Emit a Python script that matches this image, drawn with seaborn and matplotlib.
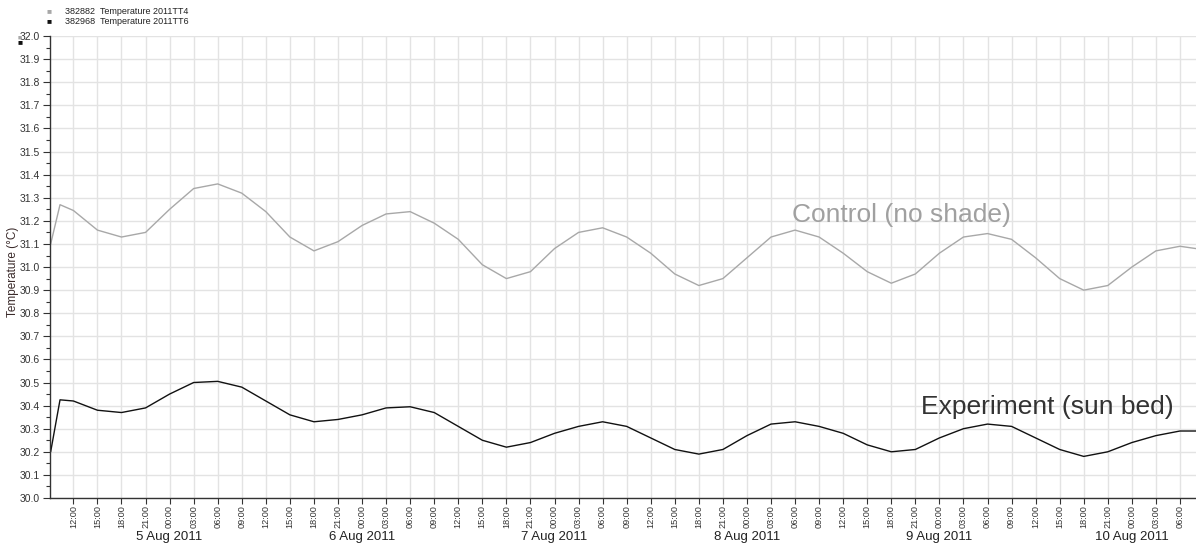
import matplotlib
matplotlib.use('Agg')
import matplotlib.pyplot as plt
import matplotlib.dates as mdates
import matplotlib.transforms as mtransforms
from matplotlib.ticker import MultipleLocator, FormatStrFormatter
import seaborn as sns
import pandas as pd

# time stamps: two early readings, then every 3 hours, then the last reading
start_times = ['2011-08-04 09:10', '2011-08-04 10:20']
grid_times = pd.date_range('2011-08-04 12:00', '2011-08-10 06:00', freq='3h')
end_times = ['2011-08-10 08:00']

control_temp = [31.10, 31.27,
                31.245, 31.16, 31.13, 31.15,
                31.25, 31.34, 31.36, 31.32, 31.24, 31.13, 31.07, 31.11,
                31.18, 31.23, 31.24, 31.19, 31.12, 31.01, 30.95, 30.98,
                31.08, 31.15, 31.17, 31.13, 31.06, 30.97, 30.92, 30.95,
                31.04, 31.13, 31.16, 31.13, 31.06, 30.98, 30.93, 30.97,
                31.06, 31.13, 31.145, 31.12, 31.04, 30.95, 30.90, 30.92,
                31.00, 31.07, 31.09,
                31.08]

experiment_temp = [30.20, 30.425,
                   30.42, 30.38, 30.37, 30.39,
                   30.45, 30.50, 30.505, 30.48, 30.42, 30.36, 30.33, 30.34,
                   30.36, 30.39, 30.395, 30.37, 30.31, 30.25, 30.22, 30.24,
                   30.28, 30.31, 30.33, 30.31, 30.26, 30.21, 30.19, 30.21,
                   30.27, 30.32, 30.33, 30.31, 30.28, 30.23, 30.20, 30.21,
                   30.26, 30.30, 30.32, 30.31, 30.26, 30.21, 30.18, 30.20,
                   30.24, 30.27, 30.29,
                   30.29]

series_names = ['382882  Temperature 2011TT4', '382968  Temperature 2011TT6']
series_colors = ['#a8a8a8', '#111111']
day_labels = ['5 Aug 2011', '6 Aug 2011', '7 Aug 2011', '8 Aug 2011', '9 Aug 2011', '10 Aug 2011']
day_dates = ['2011-08-05', '2011-08-06', '2011-08-07', '2011-08-08', '2011-08-09', '2011-08-10']

times = list(pd.to_datetime(start_times)) + list(grid_times) + list(pd.to_datetime(end_times))
df = pd.DataFrame({
    'Time': times * 2,
    'Temperature': control_temp + experiment_temp,
    'Series': [series_names[0]] * len(times) + [series_names[1]] * len(times),
})

sns.set_style('white')
plt.rcParams['font.family'] = ['Liberation Sans', 'DejaVu Sans']

fig = plt.figure(figsize=(11.96, 5.44), dpi=100)
ax = fig.add_axes([0.0418, 0.0846, 0.9582, 0.849])

sns.lineplot(data=df, x='Time', y='Temperature', hue='Series',
             palette=series_colors, linewidth=1.0, ax=ax, legend=False)

ax.set_xlim(pd.Timestamp('2011-08-04 09:05'), pd.Timestamp('2011-08-10 08:00'))
ax.set_ylim(30.0, 32.0)

ax.yaxis.set_major_locator(MultipleLocator(0.1))
ax.yaxis.set_minor_locator(MultipleLocator(0.05))
ax.yaxis.set_major_formatter(FormatStrFormatter('%.1f'))
ax.xaxis.set_major_locator(mdates.HourLocator(byhour=range(0, 24, 3)))
ax.xaxis.set_major_formatter(mdates.DateFormatter('%H:%M'))
ax.tick_params(axis='x', which='major', labelsize=6.6, rotation=90, length=4,
               width=0.8, color='#333333', labelcolor='#333333', pad=1, bottom=True)
ax.tick_params(axis='y', which='major', labelsize=7.5, length=5, width=0.8,
               color='#333333', labelcolor='#333333', pad=2, left=True)
ax.tick_params(axis='y', which='minor', length=3, width=0.8, color='#333333', left=True)

ax.grid(True, which='major', color='#e3e3e3', linewidth=1.0)
ax.set_axisbelow(True)
for side in ['top', 'right']:
    ax.spines[side].set_visible(False)
for side in ['left', 'bottom']:
    ax.spines[side].set_color('#333333')
    ax.spines[side].set_linewidth(1.0)

ax.set_xlabel('')
ax.set_ylabel('Temperature (°C)', fontsize=8.5, color='#3a2a2a')
ax.yaxis.set_label_coords(-0.027, 0.49)

trans = mtransforms.blended_transform_factory(ax.transData, ax.transAxes)
for d, lab in zip(day_dates, day_labels):
    ax.text(mdates.date2num(pd.Timestamp(d)), -0.085, lab, transform=trans,
            ha='center', va='center', fontsize=9.5, color='#222222')

ax.text(0.743, 0.613, 'Control (no shade)', transform=ax.transAxes,
        fontsize=19, color='#a0a0a0', ha='center', va='center')
ax.text(0.870, 0.197, 'Experiment (sun bed)', transform=ax.transAxes,
        fontsize=19, color='#333333', ha='center', va='center')

# legend in the top left corner
for i, (name, col) in enumerate(zip(series_names, series_colors)):
    y = 1 - (12 + 10 * i) / 544
    fig.text(0.0385, y, '\u25a0', color=col, fontsize=6, ha='left', va='center')
    fig.text(0.054, y, name, color='#222222', fontsize=6.5, ha='left', va='center')
# small series markers at the top of the value axis
fig.text(0.0145, 1 - 38 / 544, '\u25a0', color=series_colors[0], fontsize=5, ha='left', va='center')
fig.text(0.0145, 1 - 43 / 544, '\u25a0', color=series_colors[1], fontsize=6, ha='left', va='center')

fig.savefig('out.png', dpi=100)
